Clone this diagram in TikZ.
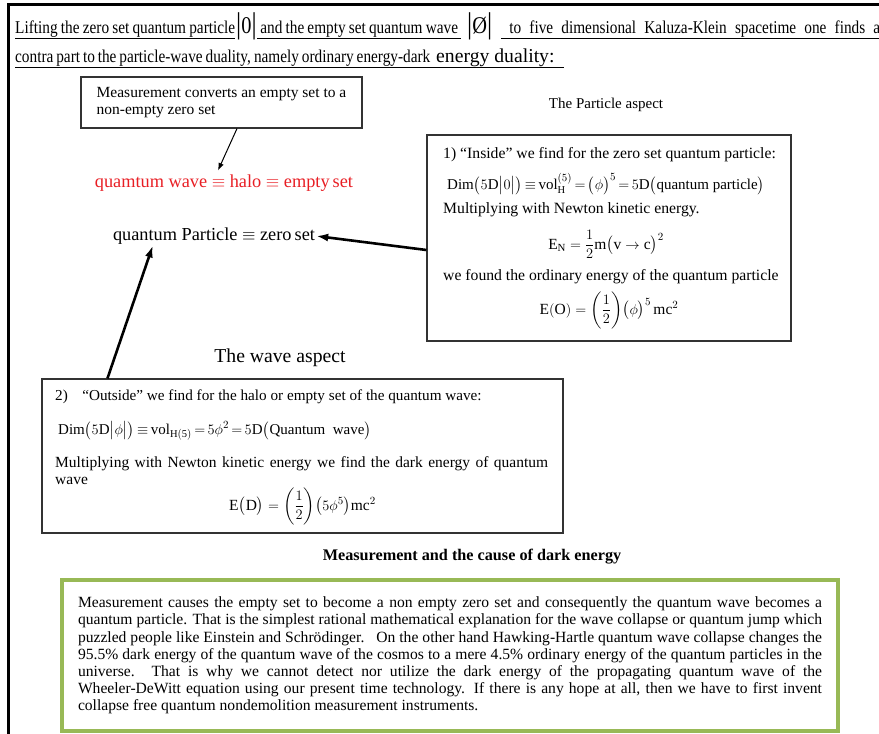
\documentclass[tikz,border=0pt]{standalone}
\usepackage{amsmath, amssymb}
\usepackage{fontspec}
\setmainfont{Liberation Serif}
\newfontfamily\narrowfont{Liberation Serif}[FakeStretch=0.85]
\usetikzlibrary{positioning,arrows.meta}

\definecolor{halored}{RGB}{232,30,36}
\definecolor{framegreen}{RGB}{152,185,86}

\newcommand{\tallbar}{{\fontsize{30}{30}\selectfont|}}
\newcommand{\tightrel}{\thickmuskip=3mu plus 2mu\relax}
% underlined piece of fixed width, spaces stretched
\newcommand{\ulpiece}[2]{\underline{\smash[b]{\makebox[#1][s]{#2}}\rule[-2.5pt]{0pt}{0pt}}}

\begin{document}
\begin{tikzpicture}[>=Latex, x=1pt, y=-1pt,
        headline/.style={anchor=base west, inner sep=0pt, font=\narrowfont\fontsize{18}{20}\selectfont},
        framed/.style={draw=black!80, line width=1.1pt, inner sep=0pt},
        boxtext/.style={anchor=base west, inner sep=0pt, font=\fontsize{15.7}{18}\selectfont},
        boxmath/.style={anchor=base, inner sep=0pt, font=\fontsize{15.5}{18}\selectfont},
        formula/.style={anchor=base west, inner sep=0pt, font=\fontsize{15}{18}\selectfont\tightrel},
        bigline/.style={inner sep=1pt, font=\fontsize{18.3}{21}\selectfont},
        thickarrow/.style={-{Latex[length=12pt,width=8pt]}, line width=2.6pt}]
    \useasboundingbox (0,0) rectangle (879,734);
    \clip (0,0) rectangle (879,734);

    % page edge
    \draw[line width=3pt] (8,734) -- (8,4) -- (879,4);

    % title lines
    \node[headline] (liftA) at (15,33) {\ulpiece{220pt}{Lifting the zero set quantum particle}};
    \node[headline] (zeroket) at (236,33) {\tallbar{\fontsize{24}{24}\selectfont 0}\tallbar};
    \node[headline] (liftB) at (257,33) {\ulpiece{204pt}{\ and the empty set quantum wave\ }};
    \node[headline] (emptyket) at (467,33) {\tallbar{\fontsize{24}{24}\selectfont Ø}\tallbar};
    \node[headline] (liftC) at (501,33) {\ulpiece{379pt}{\ to five dimensional Kaluza-Klein spacetime one finds a}};
    \node[headline] (contraA) at (15,62) {\ulpiece{418pt}{contra part to the particle-wave duality, namely ordinary energy-dark\ }};
    \node[headline, font=\fontsize{19.7}{22}\selectfont] (contraB) at (433,62) {\underline{\smash[b]{\hspace{3pt}energy duality:\ \ }\rule[-2.5pt]{0pt}{0pt}}};

    % measurement note
    \node[framed, minimum width=281pt, minimum height=51pt, align=left,
          font=\fontsize{15.5}{17}\selectfont] (measure) at (221.5,102.5)
          {Measurement converts an empty set to a\\ non-empty zero set};
    \node[font=\fontsize{15}{18}\selectfont] (partaspect) at (606,105) {The Particle aspect};

    % halo and zero set
    \node[bigline, text=halored] (halo) at (224,183) {quamtum wave $\equiv$ halo $\equiv$ empty\,set};
    \node[bigline] (zeroset) at (214,236) {quantum Particle $\equiv$ zero\,set};

    % particle box
    \node[framed, minimum width=364pt, minimum height=206pt] (inside) at (609,238) {};
    \node[boxtext] (insideA) at (443,158) {1) “Inside” we find for the zero set quantum particle:};
    \node[formula] (insideB) at (447,189) {$\mathrm{Dim}\bigl(5\mathrm{D}\bigl|0\bigr|\bigr)\equiv\mathrm{vol}_{\mathrm{H}}^{(5)}=\bigl(\phi\bigr)^{5}=5\mathrm{D}\bigl(\text{quantum particle}\bigr)$};
    \node[boxtext] (insideC) at (443,213) {Multiplying with Newton kinetic energy.};
    \node[boxmath] (insideD) at (606,249) {$\mathrm{E}_{\mathrm{N}}=\dfrac{1}{2}\mathrm{m}\bigl(\mathrm{v}\to\mathrm{c}\bigr)^{2}$};
    \node[boxtext] (insideE) at (443,280) {we found the ordinary energy of the quantum particle};
    \node[boxmath] (insideF) at (609,314) {$\mathrm{E(O)}=\biggl(\dfrac{1}{2}\biggr)\bigl(\phi\bigr)^{5}\,\mathrm{mc}^{2}$};

    % wave box
    \node[font=\fontsize{19.7}{22}\selectfont] (waveaspect) at (280,358) {The wave aspect};
    \node[framed, minimum width=521pt, minimum height=154pt] (outside) at (302.5,456) {};
    \node[boxtext, font=\fontsize{15.2}{18}\selectfont] (outsideA) at (55,400) {2)\hspace{14.5pt}“Outside” we find for the halo or empty set of the quantum wave:};
    \node[formula] (outsideB) at (58,434) {$\mathrm{Dim}\bigl(5\mathrm{D}\bigl|\phi\bigr|\bigr)\equiv\mathrm{vol}_{\mathrm{H(5)}}=5\phi^{2}=5\mathrm{D}\bigl(\text{Quantum\ \ wave}\bigr)$};
    \node[boxtext, text width=493pt, align=justify, font=\fontsize{15.5}{17}\selectfont] (outsideC) at (55,467)
          {Multiplying with Newton kinetic energy we find the dark energy of quantum\linebreak wave};
    \node[boxmath] (outsideD) at (302.5,510) {$\mathrm{E}\bigl(\mathrm{D}\bigr)=\biggl(\dfrac{1}{2}\biggr)\bigl(5\phi^{5}\bigr)\mathrm{mc}^{2}$};

    % summary
    \node[font=\bfseries\fontsize{16.2}{19}\selectfont] (causetitle) at (472,557) {Measurement and the cause of dark energy};
    \node[draw=framegreen, line width=4.5pt, minimum width=776pt, minimum height=151pt, inner sep=0pt,
          text width=744pt, align=justify, font=\fontsize{15.6}{17.2}\selectfont] (summary) at (450,655.5)
          {Measurement causes the empty set to become a non empty zero set and consequently the quantum wave becomes a\linebreak
           quantum particle. That is the simplest rational mathematical explanation for the wave collapse or quantum jump which\linebreak
           puzzled people like Einstein and Schrödinger.\ \ \ On the other hand Hawking-Hartle quantum wave collapse changes the\linebreak
           95.5\% dark energy of the quantum wave of the cosmos to a mere 4.5\% ordinary energy of the quantum particles in the\linebreak
           universe. That is why we cannot detect nor utilize the dark energy of the propagating quantum wave of the\linebreak
           Wheeler-DeWitt equation using our present time technology. If there is any hope at all, then we have to first invent\linebreak
           collapse free quantum nondemolition measurement instruments.};

    % connectors
    \draw[->, line width=1pt] ([xshift=15.5pt]measure.south) -- ([xshift=-6pt,yshift=3pt]halo.north);
    \draw[thickarrow] ([yshift=-12pt]inside.west) -- (zeroset.east);
    \draw[thickarrow] ([xshift=66pt]outside.north west) -- ([xshift=41pt]zeroset.south west);
\end{tikzpicture}
\end{document}
